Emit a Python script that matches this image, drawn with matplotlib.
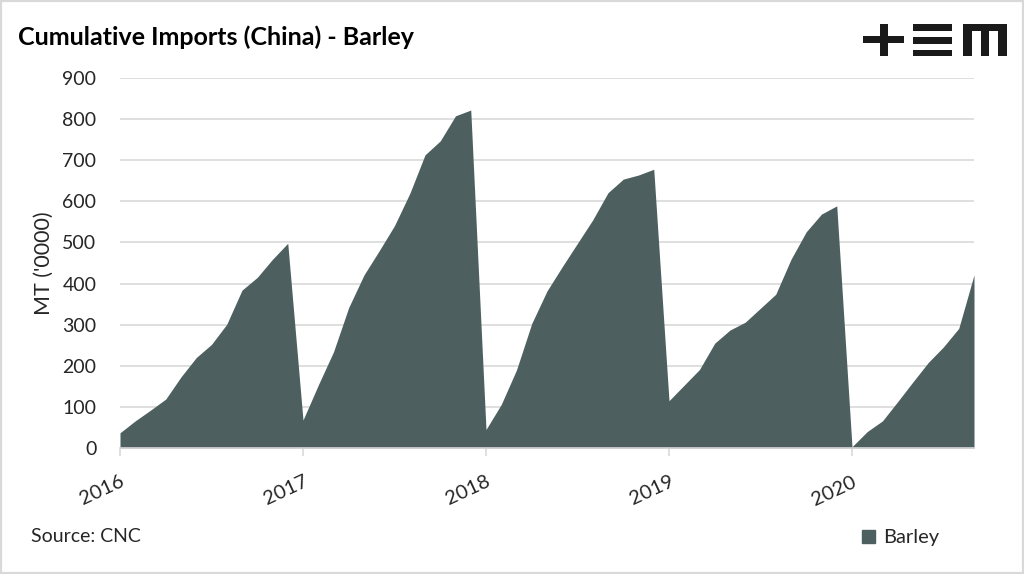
import matplotlib
matplotlib.use("Agg")
from matplotlib import pyplot as plt
from matplotlib.patches import Rectangle, Patch

# monthly cumulative imports, Jan 2016 .. Sep 2020
barley_2016 = [37, 66, 92, 119, 173, 220, 252, 301, 384, 415, 459, 498]
barley_2017 = [68, 153, 234, 342, 421, 480, 541, 619, 713, 747, 808, 822]
barley_2018 = [45, 106, 190, 303, 382, 441, 498, 555, 621, 654, 664, 678]
barley_2019 = [115, 153, 191, 255, 287, 306, 340, 374, 459, 526, 569, 589]
barley_2020 = [3, 40, 66, 113, 161, 208, 246, 291, 421]
years = ['2016', '2017', '2018', '2019', '2020']

barley = barley_2016 + barley_2017 + barley_2018 + barley_2019 + barley_2020
months = list(range(len(barley)))

fill_color = '#4d5f5f'
grid_color = '#d9d9d9'
text_color = '#262626'

plt.rcParams['font.family'] = ['Lato', 'DejaVu Sans']

W, H = 1024, 574
fig = plt.figure(figsize=(W / 100, H / 100), dpi=100)

# grey frame round the picture
fig.patches.append(Rectangle((0, 0), 1, 1, transform=fig.transFigure,
                             fill=False, edgecolor='#d9d9d9', linewidth=3))

ax = fig.add_axes([120 / W, 1 - 448 / H, (974 - 120) / W, (448 - 78) / H])
ax.fill_between(months, barley, 0, color=fill_color, linewidth=0)

ax.set_xlim(0, len(barley) - 1)
ax.set_ylim(0, 900)
ax.set_yticks(range(0, 901, 100))
ax.yaxis.grid(True, color=grid_color, linewidth=1.2)
ax.set_axisbelow(True)
ax.set_xticks([12 * i for i in range(len(years))])
ax.set_xticklabels(years, rotation=25, ha='right', rotation_mode='anchor')

for s in ['top', 'right', 'left']:
    ax.spines[s].set_visible(False)
ax.spines['bottom'].set_color(grid_color)
ax.spines['bottom'].set_linewidth(1.2)
ax.tick_params(axis='y', length=0, pad=17, labelsize=14, labelcolor=text_color)
ax.tick_params(axis='x', length=6, width=1.2, color=grid_color, pad=12,
               labelsize=14.5, labelcolor=text_color)
ax.set_ylabel("MT ('0000)", fontsize=15.5, color=text_color, labelpad=6)

fig.text(18 / W, 1 - 37 / H, 'Cumulative Imports (China) - Barley',
         fontsize=18, fontweight='bold', color='black', va='center')
fig.text(31 / W, 1 - 537 / H, 'Source: CNC', fontsize=14, color=text_color,
         va='center')

fig.legend(handles=[Patch(color=fill_color, label='Barley')],
           loc='center left', bbox_to_anchor=(852 / W, 1 - 538 / H),
           frameon=False, fontsize=14.5, handlelength=0.65, handleheight=0.65,
           handletextpad=0.4, borderpad=0, labelcolor=text_color)


# +EM logo drawn as blocks, pixel coordinates from the top-left
def block(x0, y0, x1, y1):
    fig.patches.append(Rectangle((x0 / W, 1 - y1 / H), (x1 - x0) / W,
                                 (y1 - y0) / H, transform=fig.transFigure,
                                 color='#1a1a1a', linewidth=0))


block(863, 36, 904, 43)
block(880, 24, 888, 56)
block(913, 24, 952, 31)
block(913, 37, 952, 44)
block(913, 50, 952, 56)
block(963, 24, 1007, 31)
block(963, 24, 972, 56)
block(981, 24, 989, 56)
block(998, 24, 1007, 56)

fig.savefig('out.png', dpi=100)
